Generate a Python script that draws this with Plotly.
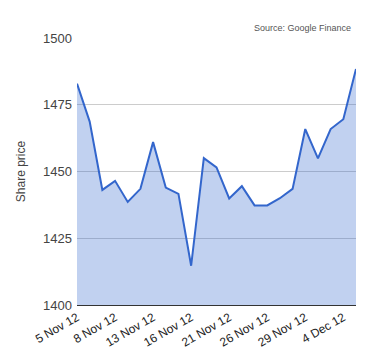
import plotly.graph_objects as go

dates = ["5 Nov 12", "6 Nov 12", "7 Nov 12", "8 Nov 12", "9 Nov 12",
         "12 Nov 12", "13 Nov 12", "14 Nov 12", "15 Nov 12", "16 Nov 12",
         "19 Nov 12", "20 Nov 12", "21 Nov 12", "22 Nov 12", "23 Nov 12",
         "26 Nov 12", "27 Nov 12", "28 Nov 12", "29 Nov 12", "30 Nov 12",
         "3 Dec 12", "4 Dec 12", "5 Dec 12"]
prices = [1482.9, 1468.7, 1443.1, 1446.5, 1438.6,
          1443.5, 1461.0, 1444.0, 1441.6, 1414.7,
          1455.0, 1451.5, 1439.9, 1444.5, 1437.3,
          1437.3, 1440.0, 1443.5, 1465.9, 1454.9,
          1465.9, 1469.6, 1488.4]
tick_labels = dates[::3]
y_ticks = [1400, 1425, 1450, 1475, 1500]

fig = go.Figure()
fig.add_trace(go.Scatter(
    x=dates, y=prices, mode="lines",
    line=dict(color="#3366cc", width=2),
    fill="tozeroy", fillcolor="rgba(51,102,204,0.3)",
    hoverinfo="skip",
))

# page body has an 8px default margin, so the figure is drawn 8px in from the window edge
fig.update_layout(
    width=372, height=352,
    margin=dict(l=69, r=24, t=30, b=55, autoexpand=False),
    plot_bgcolor="white", paper_bgcolor="white",
    font=dict(family="Liberation Sans, Arial, sans-serif", size=12, color="#222"),
    showlegend=False,
    xaxis=dict(
        type="category", range=[0, 22], automargin=False,
        tickvals=tick_labels, ticktext=tick_labels,
        tickangle=-30, showgrid=False, zeroline=False,
        showline=True, linecolor="#333", linewidth=1,
        ticks="", tickfont=dict(size=12, color="#222"),
    ),
    yaxis=dict(
        range=[1400, 1500], tickvals=y_ticks, automargin=False,
        showgrid=True, gridcolor="#cccccc", zeroline=False,
        ticks="", ticklabelstandoff=4, tickfont=dict(size=13, color="#444"),
        title=dict(text="Share price", font=dict(size=12, color="#444"), standoff=14),
    ),
    annotations=[dict(
        text="Source: Google Finance", xref="paper", yref="paper",
        x=1, y=1, xanchor="right", yanchor="bottom", yshift=3, xshift=-3,
        showarrow=False, font=dict(size=9, color="#555"),
    )],
)

fig.write_html("out.html")
